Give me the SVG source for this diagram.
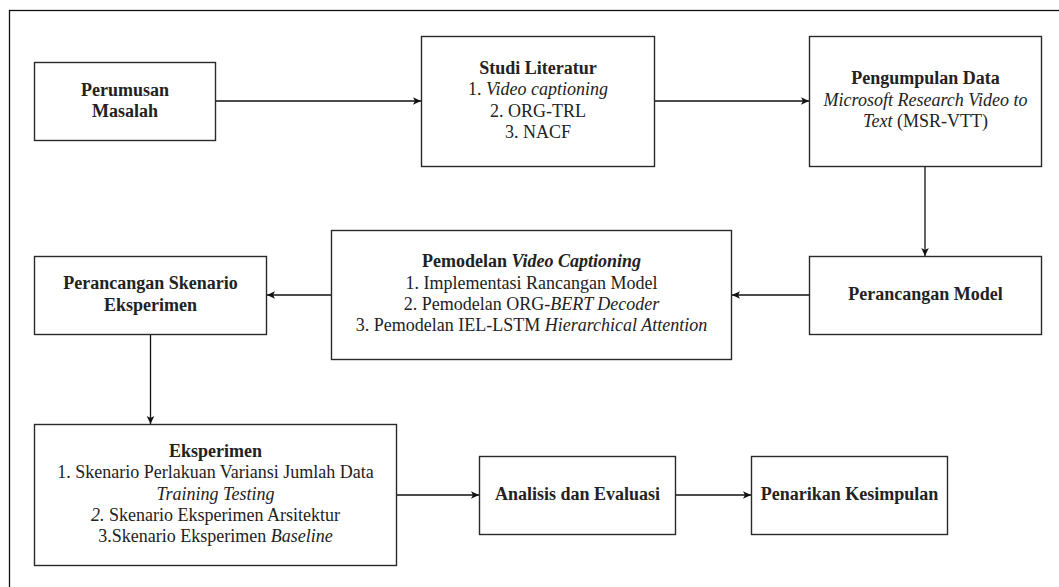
<svg xmlns="http://www.w3.org/2000/svg" width="1059" height="587" viewBox="0 0 1059 587">
<style>
.box{fill:#fff;stroke:#2a2a2a;stroke-width:1.4}
.t{font-family:'Liberation Serif','DejaVu Serif',serif;font-size:18px;fill:#222;text-anchor:middle}
.b{font-weight:bold}
.i{font-style:italic}
.c{fill:none;stroke:#111;stroke-width:1.3}
</style>
<defs>
<marker id="ah" markerUnits="userSpaceOnUse" markerWidth="10" markerHeight="10" refX="9" refY="5" orient="auto">
<path d="M1,1.2 L9,5 L1,8.8 L3,5 Z" fill="#111"/>
</marker>
</defs>
<rect width="1059" height="587" fill="#fff"/>
<rect x="9.5" y="10.5" width="1100" height="600" fill="none" stroke="#111" stroke-width="1.3"/>
<g id="connectors">
<line class="c" x1="215.5" y1="101" x2="421" y2="101" marker-end="url(#ah)"/>
<line class="c" x1="654.5" y1="101" x2="809" y2="101" marker-end="url(#ah)"/>
<line class="c" x1="925" y1="166.5" x2="925" y2="256" marker-end="url(#ah)"/>
<line class="c" x1="809.5" y1="295" x2="732" y2="295" marker-end="url(#ah)"/>
<line class="c" x1="331.5" y1="295" x2="267" y2="295" marker-end="url(#ah)"/>
<line class="c" x1="150.5" y1="334.5" x2="150.5" y2="424" marker-end="url(#ah)"/>
<line class="c" x1="396.5" y1="495" x2="479" y2="495" marker-end="url(#ah)"/>
<line class="c" x1="675.5" y1="495" x2="751" y2="495" marker-end="url(#ah)"/>
</g>
<g id="perumusan" font-family="Liberation Serif, serif">
<rect class="box" x="34.5" y="62.5" width="181" height="78"/>
<text class="t b" x="125" y="95.5">Perumusan</text>
<text class="t b" x="125" y="117">Masalah</text>
</g>
<g id="studi">
<rect class="box" x="421.5" y="36.5" width="233" height="130"/>
<text class="t b" x="538" y="73.5">Studi Literatur</text>
<text class="t" x="538" y="95">1. <tspan class="i">Video captioning</tspan></text>
<text class="t" x="538" y="116.5">2. ORG-TRL</text>
<text class="t" x="538" y="137.5">3. NACF</text>
</g>
<g id="pengumpulan">
<rect class="box" x="809.5" y="36.5" width="232" height="130"/>
<text class="t b" x="925.5" y="84">Pengumpulan Data</text>
<text class="t i" x="925.5" y="105.5">Microsoft Research Video to</text>
<text class="t" x="925.5" y="126.5"><tspan class="i">Text</tspan> (MSR-VTT)</text>
</g>
<g id="perancangan-model">
<rect class="box" x="809.5" y="256.5" width="232" height="78"/>
<text class="t b" x="925.5" y="299.5">Perancangan Model</text>
</g>
<g id="pemodelan">
<rect class="box" x="331.5" y="230.5" width="400" height="129"/>
<text class="t" x="531.5" y="266.5"><tspan class="b">Pemodelan </tspan><tspan class="b i">Video Captioning</tspan></text>
<text class="t" x="531.5" y="288.5">1. Implementasi Rancangan Model</text>
<text class="t" x="531.5" y="309.5">2. Pemodelan ORG-<tspan class="i">BERT Decoder</tspan></text>
<text class="t" x="531.5" y="331">3. Pemodelan IEL-LSTM <tspan class="i">Hierarchical Attention</tspan></text>
</g>
<g id="perancangan-skenario">
<rect class="box" x="34.5" y="256.5" width="232" height="78"/>
<text class="t b" x="150.5" y="289">Perancangan Skenario</text>
<text class="t b" x="150.5" y="310.5">Eksperimen</text>
</g>
<g id="eksperimen">
<rect class="box" x="34.5" y="424.5" width="362" height="141"/>
<text class="t b" x="215.5" y="457">Eksperimen</text>
<text class="t" x="215.5" y="478.3">1. Skenario Perlakuan Variansi Jumlah Data</text>
<text class="t i" x="215.5" y="499.6">Training Testing</text>
<text class="t" x="215.5" y="520.9"><tspan class="i">2.</tspan> Skenario Eksperimen Arsitektur</text>
<text class="t" x="215.5" y="542.2">3.Skenario Eksperimen <tspan class="i">Baseline</tspan></text>
</g>
<g id="analisis">
<rect class="box" x="479.5" y="456.5" width="196" height="78"/>
<text class="t b" x="577.5" y="500">Analisis dan Evaluasi</text>
</g>
<g id="penarikan">
<rect class="box" x="751.5" y="456.5" width="196" height="78"/>
<text class="t b" x="849.5" y="500">Penarikan Kesimpulan</text>
</g>
</svg>
